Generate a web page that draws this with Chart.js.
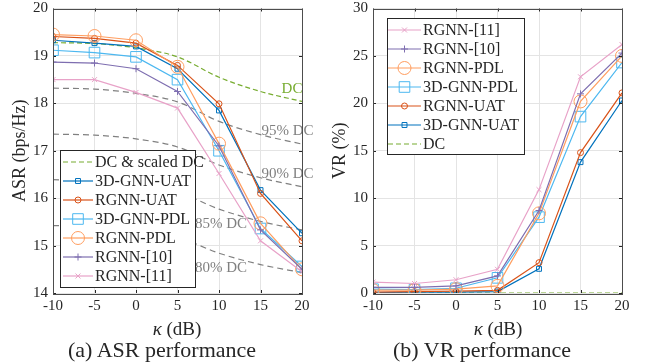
<!DOCTYPE html>
<html>
<head>
<meta charset="utf-8">
<script src="https://cdn.jsdelivr.net/npm/chart.js@4.4.1/dist/chart.umd.min.js"></script>
<style>
  body { margin: 0; background: #fff; width: 649px; height: 364px; overflow: hidden; position: relative; font-family: 'Liberation Serif', serif; color: #262626; }
  .box { position: absolute; top: 0; height: 364px; }
  .lbl { position: absolute; width: 240px; text-align: center; white-space: nowrap; }
  .xt { font-size: 19px; line-height: 20px; top: 319px; }
  .cap { font-size: 22px; line-height: 24px; top: 338px; }
</style>
</head>
<body>
<div class="box" style="left:0;width:325px"><canvas id="asrChart" width="325" height="364"></canvas></div>
<div class="box" style="left:325px;width:324px"><canvas id="vrChart" width="324" height="364"></canvas></div>
<div class="lbl xt" style="left:57px"><i>κ</i> (dB)</div>
<div class="lbl cap" style="left:42px">(a) ASR performance</div>
<div class="lbl xt" style="left:378px"><i>κ</i> (dB)</div>
<div class="lbl cap" style="left:362px">(b) VR performance</div>
<script>
// kappa in dB
const kappa = [-10, -5, 0, 5, 10, 15, 20];

// ASR (bps/Hz)
const asrDC = [19.28, 19.26, 19.17, 18.98, 18.55, 18.25, 18.04];
const asrDC95 = [18.32, 18.30, 18.21, 18.03, 17.62, 17.34, 17.14];
const asrDC90 = [17.35, 17.33, 17.25, 17.08, 16.70, 16.43, 16.24];
const asrDC85 = [16.39, 16.37, 16.29, 16.13, 15.77, 15.51, 15.33];
const asrDC80 = [15.42, 15.41, 15.34, 15.18, 14.84, 14.60, 14.43];
const asr3dUAT = [19.33, 19.27, 19.20, 18.73, 17.85, 16.17, 15.26];
const asrRUAT = [19.41, 19.37, 19.27, 18.80, 17.99, 16.10, 15.10];
const asr3dPDL = [19.12, 19.07, 18.98, 18.50, 17.00, 15.36, 14.56];
const asrRPDL = [19.45, 19.42, 19.33, 18.77, 17.15, 15.47, 14.50];
const asrR10 = [18.87, 18.85, 18.73, 18.25, 17.10, 15.33, 14.50];
const asrR11 = [18.50, 18.50, 18.23, 17.90, 16.52, 15.10, 14.45];

// VR (%)
const vrDC = [0, 0, 0, 0, 0, 0, 0];
const vr3dUAT = [0.05, 0.08, 0.10, 0.15, 2.55, 13.8, 20.3];
const vrRUAT = [0.10, 0.15, 0.20, 0.28, 3.2, 14.8, 21.1];
const vr3dPDL = [0.40, 0.35, 0.50, 1.6, 8.0, 18.6, 24.3];
const vrRPDL = [0.30, 0.30, 0.40, 0.75, 8.4, 20.2, 25.0];
const vrR10 = [0.60, 0.60, 0.75, 1.8, 8.7, 21.0, 25.3];
const vrR11 = [1.15, 1.00, 1.40, 2.5, 10.9, 22.8, 26.2];

const asrTicks = [14, 15, 16, 17, 18, 19, 20];
const vrTicks = [0, 5, 10, 15, 20, 25, 30];

const FONT = '"Liberation Serif", "Times New Roman", serif';
const INK = '#262626';

const pts = arr => kappa.map((k, i) => ({ x: k, y: arr[i] }));

function series(label, arr, color, style, r, extra) {
  return Object.assign({
    label: label,
    data: pts(arr),
    borderColor: color,
    borderWidth: 1.2,
    pointStyle: style,
    pointRadius: r,
    pointBorderColor: color,
    pointBackgroundColor: 'rgba(0,0,0,0)',
    pointBorderWidth: 1,
    tension: 0
  }, extra || {});
}
function dashed(label, arr, color, dash) {
  return series(label, arr, color, false, 0, { borderDash: dash, cubicInterpolationMode: 'monotone' });
}

// frame, inward ticks, text notes and in-axes legend
const frame = {
  id: 'frame',
  afterDatasetsDraw(chart, args, o) {
    const { ctx, chartArea: a, scales } = chart;
    ctx.save();
    ctx.font = '15px ' + FONT;
    ctx.textAlign = 'center';
    ctx.textBaseline = 'middle';
    (o.notes || []).forEach(n => {
      ctx.fillStyle = n.color;
      ctx.fillText(n.text, scales.x.getPixelForValue(n.x), scales.y.getPixelForValue(n.y));
    });
    ctx.strokeStyle = INK;
    ctx.lineWidth = 1;
    ctx.beginPath();
    scales.x.ticks.forEach(t => {
      const x = Math.round(scales.x.getPixelForValue(t.value)) + 0.5;
      ctx.moveTo(x, a.bottom); ctx.lineTo(x, a.bottom - 3);
      ctx.moveTo(x, a.top); ctx.lineTo(x, a.top + 3);
    });
    scales.y.ticks.forEach(t => {
      const y = Math.round(scales.y.getPixelForValue(t.value)) + 0.5;
      ctx.moveTo(a.left, y); ctx.lineTo(a.left + 3, y);
      ctx.moveTo(a.right, y); ctx.lineTo(a.right - 3, y);
    });
    ctx.stroke();
    ctx.strokeStyle = '#4d4d4d';
    ctx.strokeRect(Math.round(a.left) + 0.5, Math.round(a.top) + 0.5, Math.round(a.right - a.left), Math.round(a.bottom - a.top));

    const L = o.legend;
    ctx.fillStyle = '#fff';
    ctx.fillRect(L.x, L.y, L.w, L.h);
    ctx.strokeStyle = INK;
    ctx.strokeRect(L.x + 0.5, L.y + 0.5, L.w, L.h);
    ctx.font = '16px ' + FONT;
    ctx.textAlign = 'left';
    L.items.forEach((idx, i) => {
      const ds = chart.data.datasets[idx];
      const y = L.row0 + i * L.dy;
      ctx.strokeStyle = ds.borderColor;
      ctx.lineWidth = ds.borderWidth;
      ctx.setLineDash(ds.borderDash || []);
      ctx.beginPath();
      ctx.moveTo(L.x1, y); ctx.lineTo(L.x2, y);
      ctx.stroke();
      ctx.setLineDash([]);
      if (ds.pointStyle) {
        ctx.lineWidth = 1;
        ctx.fillStyle = 'rgba(0,0,0,0)';
        Chart.helpers.drawPoint(ctx, { pointStyle: ds.pointStyle, radius: ds.pointRadius, rotation: 0, borderWidth: 1 }, (L.x1 + L.x2) / 2, y);
      }
      ctx.fillStyle = INK;
      ctx.fillText(ds.label, L.tx, y + 1);
    });
    ctx.restore();
  }
};

function axes(min, max, ticks, yTitle, yWidth, titlePad) {
  const tickFont = { family: FONT, size: 15 };
  return {
    x: {
      type: 'linear', min: -10, max: 20,
      ticks: { stepSize: 5, color: INK, font: tickFont, padding: 4, maxRotation: 0 },
      grid: { color: '#e4e4e4', drawTicks: false },
      border: { display: false },
      afterFit: s => { s.height = 71; s.paddingLeft = 0; s.paddingRight = 0; }
    },
    y: {
      min: min, max: max,
      afterBuildTicks: s => { s.ticks = ticks.map(v => ({ value: v })); },
      ticks: { color: INK, font: tickFont, padding: 5 },
      grid: { color: '#e4e4e4', drawTicks: false },
      border: { display: false },
      title: { display: true, text: yTitle, color: INK, font: { family: FONT, size: 18 }, padding: { top: titlePad, bottom: 0 } },
      afterFit: s => { s.width = yWidth; s.paddingTop = 0; s.paddingBottom = 0; }
    }
  };
}

const C3dUAT = '#0072BD', CRUAT = '#D95319', C3dPDL = '#4DB8F0', CRPDL = '#FF9E60';
const CR10 = '#7E6EB0', CR11 = '#E8A2C8', CDC = '#77AC30', CGRAY = '#808080';

new Chart(document.getElementById('asrChart'), {
  type: 'line',
  data: {
    datasets: [
      series('RGNN-[11]', asrR11, CR11, 'crossRot', 3.5),
      series('RGNN-[10]', asrR10, CR10, 'cross', 3.5),
      series('RGNN-PDL', asrRPDL, CRPDL, 'circle', 6.5),
      series('3D-GNN-PDL', asr3dPDL, C3dPDL, 'rect', 7.5),
      series('RGNN-UAT', asrRUAT, CRUAT, 'circle', 3),
      series('3D-GNN-UAT', asr3dUAT, C3dUAT, 'rect', 3.5),
      dashed('DC & scaled DC', asrDC, CDC, [5, 3]),
      dashed('95% DC', asrDC95, CGRAY, [6, 4]),
      dashed('90% DC', asrDC90, CGRAY, [6, 4]),
      dashed('85% DC', asrDC85, CGRAY, [6, 4]),
      dashed('80% DC', asrDC80, CGRAY, [6, 4])
    ]
  },
  options: {
    responsive: false,
    animation: false,
    layout: { padding: { left: 0, right: 23, top: 7, bottom: 0 } },
    plugins: {
      legend: { display: false },
      tooltip: { enabled: false },
      frame: {
        notes: [
          { text: 'DC', x: 18.8, y: 18.31, color: CDC },
          { text: '95% DC', x: 18.25, y: 17.41, color: CGRAY },
          { text: '90% DC', x: 18.25, y: 16.50, color: CGRAY },
          { text: '85% DC', x: 10.24, y: 15.45, color: CGRAY },
          { text: '80% DC', x: 10.24, y: 14.53, color: CGRAY }
        ],
        legend: { x: 60, y: 150, w: 135, h: 137, row0: 162, dy: 19, x1: 63, x2: 93, tx: 95, items: [6, 5, 4, 3, 2, 1, 0] }
      }
    },
    scales: axes(14, 20, asrTicks, 'ASR (bps/Hz)', 53, 9)
  },
  plugins: [frame]
});

new Chart(document.getElementById('vrChart'), {
  type: 'line',
  data: {
    datasets: [
      series('RGNN-[11]', vrR11, CR11, 'crossRot', 3.5),
      series('RGNN-[10]', vrR10, CR10, 'cross', 3.5),
      series('RGNN-PDL', vrRPDL, CRPDL, 'circle', 6.5),
      series('3D-GNN-PDL', vr3dPDL, C3dPDL, 'rect', 7.5),
      series('RGNN-UAT', vrRUAT, CRUAT, 'circle', 3),
      series('3D-GNN-UAT', vr3dUAT, C3dUAT, 'rect', 3.5),
      dashed('DC', vrDC, CDC, [5, 3])
    ]
  },
  options: {
    responsive: false,
    animation: false,
    layout: { padding: { left: 0, right: 27, top: 7, bottom: 0 } },
    plugins: {
      legend: { display: false },
      tooltip: { enabled: false },
      frame: {
        notes: [],
        legend: { x: 62, y: 18, w: 137, h: 136, row0: 30, dy: 19, x1: 63, x2: 96, tx: 98, items: [0, 1, 2, 3, 4, 5, 6] }
      }
    },
    scales: axes(0, 30, vrTicks, 'VR (%)', 48, 4)
  },
  plugins: [frame]
});
</script>
</body>
</html>
